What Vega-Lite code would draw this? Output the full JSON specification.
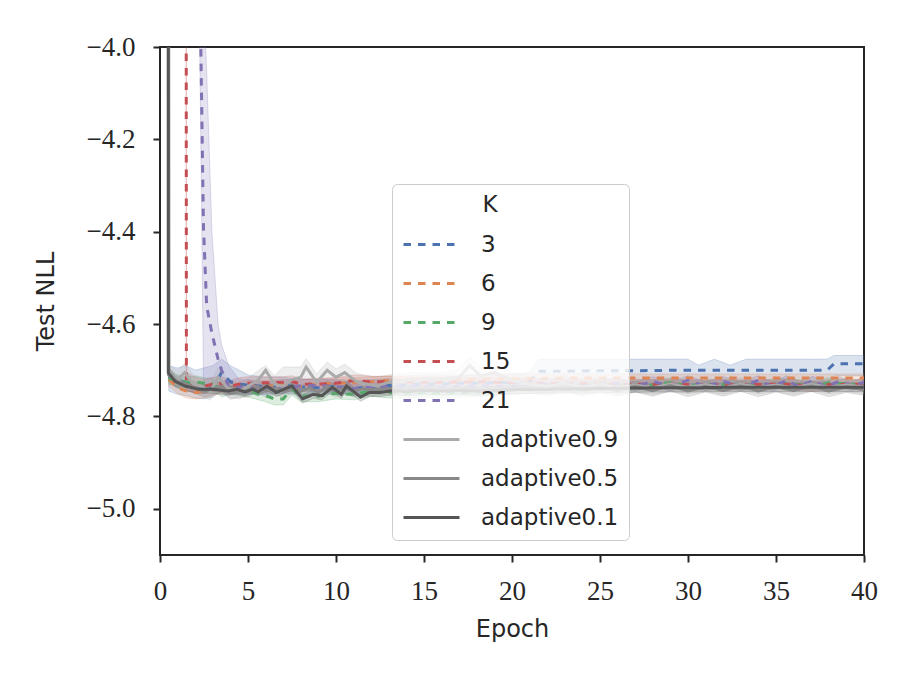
{
"$schema": "https://vega.github.io/schema/vega-lite/v6.json",
"width": 704, "height": 508,
"autosize": {"type": "none"},
"padding": {"left": 160, "top": 47, "right": 49, "bottom": 130},
"background": "white",
"config": {"view": {"stroke": "#262626", "strokeWidth": 2}},
"data": {"values": [
{"s":"3","x":0.5,"y":-4.712,"lo":-4.745,"hi":-4.69},
{"s":"3","x":1,"y":-4.722,"lo":-4.752,"hi":-4.695},
{"s":"3","x":1.5,"y":-4.726,"lo":-4.755,"hi":-4.69},
{"s":"3","x":2,"y":-4.735,"lo":-4.76,"hi":-4.7},
{"s":"3","x":2.5,"y":-4.742,"lo":-4.762,"hi":-4.695},
{"s":"3","x":3,"y":-4.738,"lo":-4.758,"hi":-4.69},
{"s":"3","x":3.5,"y":-4.705,"lo":-4.745,"hi":-4.676},
{"s":"3","x":4,"y":-4.725,"lo":-4.752,"hi":-4.69},
{"s":"3","x":4.5,"y":-4.73,"lo":-4.752,"hi":-4.7},
{"s":"3","x":5,"y":-4.732,"lo":-4.752,"hi":-4.71},
{"s":"3","x":6,"y":-4.735,"lo":-4.752,"hi":-4.715},
{"s":"3","x":7,"y":-4.733,"lo":-4.75,"hi":-4.715},
{"s":"3","x":8,"y":-4.736,"lo":-4.752,"hi":-4.72},
{"s":"3","x":9,"y":-4.738,"lo":-4.754,"hi":-4.72},
{"s":"3","x":10,"y":-4.735,"lo":-4.75,"hi":-4.72},
{"s":"3","x":11,"y":-4.74,"lo":-4.754,"hi":-4.722},
{"s":"3","x":12,"y":-4.735,"lo":-4.75,"hi":-4.72},
{"s":"3","x":13,"y":-4.733,"lo":-4.748,"hi":-4.718},
{"s":"3","x":14,"y":-4.732,"lo":-4.746,"hi":-4.718},
{"s":"3","x":15,"y":-4.73,"lo":-4.745,"hi":-4.715},
{"s":"3","x":16,"y":-4.73,"lo":-4.745,"hi":-4.715},
{"s":"3","x":17,"y":-4.728,"lo":-4.742,"hi":-4.712},
{"s":"3","x":18,"y":-4.728,"lo":-4.742,"hi":-4.71},
{"s":"3","x":19,"y":-4.727,"lo":-4.742,"hi":-4.71},
{"s":"3","x":20,"y":-4.726,"lo":-4.74,"hi":-4.708},
{"s":"3","x":21,"y":-4.725,"lo":-4.74,"hi":-4.705},
{"s":"3","x":21.5,"y":-4.702,"lo":-4.73,"hi":-4.676},
{"s":"3","x":23,"y":-4.702,"lo":-4.728,"hi":-4.676},
{"s":"3","x":25,"y":-4.701,"lo":-4.728,"hi":-4.676},
{"s":"3","x":27,"y":-4.701,"lo":-4.728,"hi":-4.676},
{"s":"3","x":29,"y":-4.7,"lo":-4.728,"hi":-4.676},
{"s":"3","x":30,"y":-4.7,"lo":-4.728,"hi":-4.676},
{"s":"3","x":30.6,"y":-4.7,"lo":-4.728,"hi":-4.689},
{"s":"3","x":31.5,"y":-4.7,"lo":-4.728,"hi":-4.676},
{"s":"3","x":32.4,"y":-4.7,"lo":-4.728,"hi":-4.689},
{"s":"3","x":33.3,"y":-4.7,"lo":-4.728,"hi":-4.676},
{"s":"3","x":35,"y":-4.7,"lo":-4.728,"hi":-4.676},
{"s":"3","x":37,"y":-4.7,"lo":-4.728,"hi":-4.676},
{"s":"3","x":37.9,"y":-4.7,"lo":-4.728,"hi":-4.676},
{"s":"3","x":38.3,"y":-4.686,"lo":-4.712,"hi":-4.668},
{"s":"3","x":39,"y":-4.686,"lo":-4.712,"hi":-4.668},
{"s":"3","x":40,"y":-4.686,"lo":-4.712,"hi":-4.668},

{"s":"6","x":0.5,"y":-4.72,"lo":-4.735,"hi":-4.705},
{"s":"6","x":1,"y":-4.738,"lo":-4.75,"hi":-4.72},
{"s":"6","x":1.5,"y":-4.745,"lo":-4.76,"hi":-4.73},
{"s":"6","x":2,"y":-4.748,"lo":-4.762,"hi":-4.735},
{"s":"6","x":2.5,"y":-4.745,"lo":-4.76,"hi":-4.73},
{"s":"6","x":3,"y":-4.742,"lo":-4.755,"hi":-4.73},
{"s":"6","x":3.5,"y":-4.738,"lo":-4.75,"hi":-4.725},
{"s":"6","x":4,"y":-4.74,"lo":-4.752,"hi":-4.728},
{"s":"6","x":4.5,"y":-4.738,"lo":-4.75,"hi":-4.725},
{"s":"6","x":5,"y":-4.735,"lo":-4.748,"hi":-4.722},
{"s":"6","x":6,"y":-4.735,"lo":-4.748,"hi":-4.722},
{"s":"6","x":7,"y":-4.732,"lo":-4.745,"hi":-4.72},
{"s":"6","x":8,"y":-4.735,"lo":-4.748,"hi":-4.722},
{"s":"6","x":9,"y":-4.73,"lo":-4.742,"hi":-4.718},
{"s":"6","x":10,"y":-4.728,"lo":-4.74,"hi":-4.716},
{"s":"6","x":11,"y":-4.727,"lo":-4.738,"hi":-4.716},
{"s":"6","x":12,"y":-4.725,"lo":-4.736,"hi":-4.714},
{"s":"6","x":13,"y":-4.722,"lo":-4.733,"hi":-4.712},
{"s":"6","x":14,"y":-4.722,"lo":-4.733,"hi":-4.712},
{"s":"6","x":15,"y":-4.72,"lo":-4.73,"hi":-4.71},
{"s":"6","x":17,"y":-4.72,"lo":-4.73,"hi":-4.71},
{"s":"6","x":19,"y":-4.719,"lo":-4.729,"hi":-4.709},
{"s":"6","x":21,"y":-4.718,"lo":-4.727,"hi":-4.708},
{"s":"6","x":23,"y":-4.717,"lo":-4.726,"hi":-4.708},
{"s":"6","x":26,"y":-4.717,"lo":-4.726,"hi":-4.708},
{"s":"6","x":30,"y":-4.717,"lo":-4.726,"hi":-4.708},
{"s":"6","x":34,"y":-4.717,"lo":-4.726,"hi":-4.708},
{"s":"6","x":37,"y":-4.717,"lo":-4.726,"hi":-4.708},
{"s":"6","x":40,"y":-4.717,"lo":-4.726,"hi":-4.708},

{"s":"9","x":0.5,"y":-4.718,"lo":-4.73,"hi":-4.705},
{"s":"9","x":1,"y":-4.722,"lo":-4.735,"hi":-4.71},
{"s":"9","x":1.5,"y":-4.726,"lo":-4.738,"hi":-4.714},
{"s":"9","x":2,"y":-4.725,"lo":-4.738,"hi":-4.713},
{"s":"9","x":2.5,"y":-4.728,"lo":-4.74,"hi":-4.716},
{"s":"9","x":3,"y":-4.73,"lo":-4.742,"hi":-4.718},
{"s":"9","x":3.5,"y":-4.745,"lo":-4.758,"hi":-4.732},
{"s":"9","x":4,"y":-4.74,"lo":-4.752,"hi":-4.728},
{"s":"9","x":4.5,"y":-4.742,"lo":-4.755,"hi":-4.73},
{"s":"9","x":5,"y":-4.745,"lo":-4.758,"hi":-4.732},
{"s":"9","x":6,"y":-4.755,"lo":-4.768,"hi":-4.742},
{"s":"9","x":6.5,"y":-4.762,"lo":-4.775,"hi":-4.75},
{"s":"9","x":7,"y":-4.762,"lo":-4.775,"hi":-4.75},
{"s":"9","x":7.5,"y":-4.741,"lo":-4.754,"hi":-4.728},
{"s":"9","x":8,"y":-4.756,"lo":-4.768,"hi":-4.744},
{"s":"9","x":9,"y":-4.756,"lo":-4.768,"hi":-4.744},
{"s":"9","x":10,"y":-4.75,"lo":-4.762,"hi":-4.738},
{"s":"9","x":11,"y":-4.752,"lo":-4.764,"hi":-4.74},
{"s":"9","x":12,"y":-4.745,"lo":-4.756,"hi":-4.734},
{"s":"9","x":13,"y":-4.748,"lo":-4.76,"hi":-4.736},
{"s":"9","x":14,"y":-4.75,"lo":-4.76,"hi":-4.738},
{"s":"9","x":15,"y":-4.748,"lo":-4.758,"hi":-4.738},
{"s":"9","x":16,"y":-4.75,"lo":-4.76,"hi":-4.74},
{"s":"9","x":17,"y":-4.748,"lo":-4.758,"hi":-4.738},
{"s":"9","x":18,"y":-4.747,"lo":-4.757,"hi":-4.737},
{"s":"9","x":19,"y":-4.745,"lo":-4.755,"hi":-4.735},
{"s":"9","x":20,"y":-4.742,"lo":-4.752,"hi":-4.732},
{"s":"9","x":22,"y":-4.738,"lo":-4.748,"hi":-4.728},
{"s":"9","x":24,"y":-4.735,"lo":-4.745,"hi":-4.725},
{"s":"9","x":26,"y":-4.733,"lo":-4.743,"hi":-4.723},
{"s":"9","x":28,"y":-4.732,"lo":-4.742,"hi":-4.722},
{"s":"9","x":29,"y":-4.727,"lo":-4.737,"hi":-4.717},
{"s":"9","x":30,"y":-4.733,"lo":-4.743,"hi":-4.723},
{"s":"9","x":32,"y":-4.73,"lo":-4.74,"hi":-4.72},
{"s":"9","x":34,"y":-4.733,"lo":-4.743,"hi":-4.723},
{"s":"9","x":35.5,"y":-4.728,"lo":-4.738,"hi":-4.718},
{"s":"9","x":37,"y":-4.733,"lo":-4.743,"hi":-4.723},
{"s":"9","x":38,"y":-4.727,"lo":-4.737,"hi":-4.717},
{"s":"9","x":40,"y":-4.732,"lo":-4.742,"hi":-4.722},

{"s":"15","x":1.45,"y":-1.0,"lo":-1.5,"hi":-0.5},
{"s":"15","x":1.5,"y":-4.726,"lo":-4.745,"hi":-4.705},
{"s":"15","x":2,"y":-4.732,"lo":-4.748,"hi":-4.715},
{"s":"15","x":2.5,"y":-4.735,"lo":-4.75,"hi":-4.72},
{"s":"15","x":3,"y":-4.73,"lo":-4.745,"hi":-4.715},
{"s":"15","x":3.5,"y":-4.728,"lo":-4.742,"hi":-4.714},
{"s":"15","x":4,"y":-4.735,"lo":-4.748,"hi":-4.722},
{"s":"15","x":4.5,"y":-4.73,"lo":-4.744,"hi":-4.716},
{"s":"15","x":5,"y":-4.728,"lo":-4.742,"hi":-4.714},
{"s":"15","x":6,"y":-4.727,"lo":-4.74,"hi":-4.714},
{"s":"15","x":7,"y":-4.726,"lo":-4.738,"hi":-4.714},
{"s":"15","x":7.5,"y":-4.724,"lo":-4.736,"hi":-4.712},
{"s":"15","x":8,"y":-4.73,"lo":-4.742,"hi":-4.718},
{"s":"15","x":9,"y":-4.73,"lo":-4.742,"hi":-4.718},
{"s":"15","x":10,"y":-4.728,"lo":-4.74,"hi":-4.716},
{"s":"15","x":11,"y":-4.722,"lo":-4.734,"hi":-4.71},
{"s":"15","x":12,"y":-4.725,"lo":-4.737,"hi":-4.713},
{"s":"15","x":14,"y":-4.725,"lo":-4.736,"hi":-4.714},
{"s":"15","x":16,"y":-4.726,"lo":-4.736,"hi":-4.715},
{"s":"15","x":18,"y":-4.725,"lo":-4.735,"hi":-4.715},
{"s":"15","x":20,"y":-4.727,"lo":-4.737,"hi":-4.717},
{"s":"15","x":22,"y":-4.728,"lo":-4.738,"hi":-4.718},
{"s":"15","x":25,"y":-4.73,"lo":-4.74,"hi":-4.72},
{"s":"15","x":28,"y":-4.73,"lo":-4.74,"hi":-4.72},
{"s":"15","x":31,"y":-4.731,"lo":-4.741,"hi":-4.721},
{"s":"15","x":34,"y":-4.731,"lo":-4.741,"hi":-4.721},
{"s":"15","x":36,"y":-4.73,"lo":-4.74,"hi":-4.72},
{"s":"15","x":37,"y":-4.736,"lo":-4.746,"hi":-4.726},
{"s":"15","x":38,"y":-4.731,"lo":-4.741,"hi":-4.721},
{"s":"15","x":40,"y":-4.73,"lo":-4.74,"hi":-4.72},

{"s":"21","x":2.0,"y":-3.0,"lo":-3.3,"hi":-2.7},
{"s":"21","x":2.2,"y":-3.69,"lo":-3.8,"hi":-3.5},
{"s":"21","x":2.47,"y":-4.39,"lo":-4.72,"hi":-3.9},
{"s":"21","x":2.65,"y":-4.56,"lo":-4.74,"hi":-4.05},
{"s":"21","x":2.95,"y":-4.62,"lo":-4.745,"hi":-4.4},
{"s":"21","x":3.3,"y":-4.676,"lo":-4.745,"hi":-4.6},
{"s":"21","x":3.5,"y":-4.7,"lo":-4.748,"hi":-4.645},
{"s":"21","x":3.9,"y":-4.735,"lo":-4.752,"hi":-4.69},
{"s":"21","x":4.5,"y":-4.738,"lo":-4.752,"hi":-4.72},
{"s":"21","x":5,"y":-4.735,"lo":-4.75,"hi":-4.72},
{"s":"21","x":6,"y":-4.74,"lo":-4.752,"hi":-4.726},
{"s":"21","x":7,"y":-4.735,"lo":-4.748,"hi":-4.72},
{"s":"21","x":8,"y":-4.734,"lo":-4.746,"hi":-4.72},
{"s":"21","x":9,"y":-4.733,"lo":-4.745,"hi":-4.72},
{"s":"21","x":10,"y":-4.735,"lo":-4.747,"hi":-4.722},
{"s":"21","x":11,"y":-4.74,"lo":-4.752,"hi":-4.726},
{"s":"21","x":12,"y":-4.735,"lo":-4.746,"hi":-4.722},
{"s":"21","x":14,"y":-4.735,"lo":-4.745,"hi":-4.724},
{"s":"21","x":16,"y":-4.736,"lo":-4.746,"hi":-4.725},
{"s":"21","x":18,"y":-4.734,"lo":-4.744,"hi":-4.723},
{"s":"21","x":20,"y":-4.735,"lo":-4.745,"hi":-4.724},
{"s":"21","x":22,"y":-4.73,"lo":-4.74,"hi":-4.72},
{"s":"21","x":24,"y":-4.734,"lo":-4.744,"hi":-4.723},
{"s":"21","x":26,"y":-4.728,"lo":-4.738,"hi":-4.718},
{"s":"21","x":27,"y":-4.735,"lo":-4.745,"hi":-4.725},
{"s":"21","x":28,"y":-4.724,"lo":-4.734,"hi":-4.714},
{"s":"21","x":29,"y":-4.735,"lo":-4.745,"hi":-4.725},
{"s":"21","x":30,"y":-4.722,"lo":-4.732,"hi":-4.712},
{"s":"21","x":31,"y":-4.735,"lo":-4.745,"hi":-4.725},
{"s":"21","x":32,"y":-4.724,"lo":-4.734,"hi":-4.714},
{"s":"21","x":33,"y":-4.735,"lo":-4.745,"hi":-4.725},
{"s":"21","x":34,"y":-4.722,"lo":-4.732,"hi":-4.712},
{"s":"21","x":34.8,"y":-4.735,"lo":-4.745,"hi":-4.725},
{"s":"21","x":35.6,"y":-4.722,"lo":-4.732,"hi":-4.712},
{"s":"21","x":36.3,"y":-4.735,"lo":-4.745,"hi":-4.725},
{"s":"21","x":37.1,"y":-4.723,"lo":-4.733,"hi":-4.713},
{"s":"21","x":37.8,"y":-4.735,"lo":-4.745,"hi":-4.725},
{"s":"21","x":38.6,"y":-4.724,"lo":-4.734,"hi":-4.714},
{"s":"21","x":39.3,"y":-4.734,"lo":-4.744,"hi":-4.724},
{"s":"21","x":40,"y":-4.726,"lo":-4.736,"hi":-4.716},

{"s":"adaptive0.9","x":0.45,"y":-1.0,"lo":-1.5,"hi":-0.5},
{"s":"adaptive0.9","x":0.5,"y":-4.71,"lo":-4.73,"hi":-4.69},
{"s":"adaptive0.9","x":1,"y":-4.72,"lo":-4.74,"hi":-4.7},
{"s":"adaptive0.9","x":1.4,"y":-4.705,"lo":-4.725,"hi":-4.685},
{"s":"adaptive0.9","x":1.9,"y":-4.73,"lo":-4.75,"hi":-4.71},
{"s":"adaptive0.9","x":2.4,"y":-4.735,"lo":-4.755,"hi":-4.715},
{"s":"adaptive0.9","x":2.85,"y":-4.747,"lo":-4.765,"hi":-4.728},
{"s":"adaptive0.9","x":3.3,"y":-4.715,"lo":-4.735,"hi":-4.695},
{"s":"adaptive0.9","x":3.9,"y":-4.74,"lo":-4.758,"hi":-4.72},
{"s":"adaptive0.9","x":4.5,"y":-4.745,"lo":-4.762,"hi":-4.728},
{"s":"adaptive0.9","x":5,"y":-4.735,"lo":-4.752,"hi":-4.718},
{"s":"adaptive0.9","x":5.6,"y":-4.72,"lo":-4.738,"hi":-4.7},
{"s":"adaptive0.9","x":6,"y":-4.7,"lo":-4.72,"hi":-4.69},
{"s":"adaptive0.9","x":6.5,"y":-4.73,"lo":-4.75,"hi":-4.712},
{"s":"adaptive0.9","x":7,"y":-4.735,"lo":-4.752,"hi":-4.693},
{"s":"adaptive0.9","x":7.5,"y":-4.72,"lo":-4.74,"hi":-4.693},
{"s":"adaptive0.9","x":8,"y":-4.715,"lo":-4.735,"hi":-4.693},
{"s":"adaptive0.9","x":8.3,"y":-4.693,"lo":-4.712,"hi":-4.675},
{"s":"adaptive0.9","x":8.9,"y":-4.726,"lo":-4.745,"hi":-4.708},
{"s":"adaptive0.9","x":9.5,"y":-4.7,"lo":-4.72,"hi":-4.682},
{"s":"adaptive0.9","x":10,"y":-4.715,"lo":-4.735,"hi":-4.697},
{"s":"adaptive0.9","x":10.5,"y":-4.705,"lo":-4.725,"hi":-4.687},
{"s":"adaptive0.9","x":11.2,"y":-4.726,"lo":-4.745,"hi":-4.707},
{"s":"adaptive0.9","x":12.3,"y":-4.734,"lo":-4.75,"hi":-4.715},
{"s":"adaptive0.9","x":13,"y":-4.726,"lo":-4.742,"hi":-4.71},
{"s":"adaptive0.9","x":14,"y":-4.722,"lo":-4.738,"hi":-4.705},
{"s":"adaptive0.9","x":15,"y":-4.72,"lo":-4.736,"hi":-4.705},
{"s":"adaptive0.9","x":16,"y":-4.72,"lo":-4.736,"hi":-4.705},
{"s":"adaptive0.9","x":17,"y":-4.715,"lo":-4.732,"hi":-4.698},
{"s":"adaptive0.9","x":17.6,"y":-4.69,"lo":-4.71,"hi":-4.672},
{"s":"adaptive0.9","x":18.2,"y":-4.712,"lo":-4.73,"hi":-4.695},
{"s":"adaptive0.9","x":19,"y":-4.705,"lo":-4.722,"hi":-4.688},
{"s":"adaptive0.9","x":20,"y":-4.722,"lo":-4.738,"hi":-4.705},
{"s":"adaptive0.9","x":21,"y":-4.73,"lo":-4.745,"hi":-4.715},
{"s":"adaptive0.9","x":22,"y":-4.735,"lo":-4.75,"hi":-4.72},
{"s":"adaptive0.9","x":23,"y":-4.728,"lo":-4.744,"hi":-4.713},
{"s":"adaptive0.9","x":24,"y":-4.737,"lo":-4.752,"hi":-4.722},
{"s":"adaptive0.9","x":25,"y":-4.73,"lo":-4.745,"hi":-4.715},
{"s":"adaptive0.9","x":26,"y":-4.738,"lo":-4.752,"hi":-4.723},
{"s":"adaptive0.9","x":27,"y":-4.732,"lo":-4.747,"hi":-4.718},
{"s":"adaptive0.9","x":28,"y":-4.738,"lo":-4.752,"hi":-4.724},
{"s":"adaptive0.9","x":29,"y":-4.73,"lo":-4.745,"hi":-4.716},
{"s":"adaptive0.9","x":30,"y":-4.737,"lo":-4.751,"hi":-4.723},
{"s":"adaptive0.9","x":31,"y":-4.731,"lo":-4.745,"hi":-4.717},
{"s":"adaptive0.9","x":32,"y":-4.738,"lo":-4.752,"hi":-4.724},
{"s":"adaptive0.9","x":33,"y":-4.73,"lo":-4.744,"hi":-4.716},
{"s":"adaptive0.9","x":34,"y":-4.737,"lo":-4.751,"hi":-4.723},
{"s":"adaptive0.9","x":35,"y":-4.732,"lo":-4.746,"hi":-4.718},
{"s":"adaptive0.9","x":36,"y":-4.738,"lo":-4.752,"hi":-4.724},
{"s":"adaptive0.9","x":37,"y":-4.73,"lo":-4.744,"hi":-4.716},
{"s":"adaptive0.9","x":38,"y":-4.737,"lo":-4.751,"hi":-4.723},
{"s":"adaptive0.9","x":39,"y":-4.732,"lo":-4.746,"hi":-4.718},
{"s":"adaptive0.9","x":40,"y":-4.736,"lo":-4.75,"hi":-4.722},

{"s":"adaptive0.5","x":0.45,"y":-1.0,"lo":-1.5,"hi":-0.5},
{"s":"adaptive0.5","x":0.5,"y":-4.71,"lo":-4.725,"hi":-4.695},
{"s":"adaptive0.5","x":1,"y":-4.725,"lo":-4.738,"hi":-4.712},
{"s":"adaptive0.5","x":1.5,"y":-4.73,"lo":-4.743,"hi":-4.717},
{"s":"adaptive0.5","x":2,"y":-4.738,"lo":-4.75,"hi":-4.725},
{"s":"adaptive0.5","x":2.5,"y":-4.745,"lo":-4.758,"hi":-4.732},
{"s":"adaptive0.5","x":3,"y":-4.74,"lo":-4.753,"hi":-4.727},
{"s":"adaptive0.5","x":3.5,"y":-4.735,"lo":-4.748,"hi":-4.722},
{"s":"adaptive0.5","x":4,"y":-4.75,"lo":-4.763,"hi":-4.737},
{"s":"adaptive0.5","x":4.5,"y":-4.745,"lo":-4.758,"hi":-4.732},
{"s":"adaptive0.5","x":5,"y":-4.745,"lo":-4.758,"hi":-4.732},
{"s":"adaptive0.5","x":5.5,"y":-4.735,"lo":-4.748,"hi":-4.722},
{"s":"adaptive0.5","x":6,"y":-4.745,"lo":-4.758,"hi":-4.732},
{"s":"adaptive0.5","x":6.5,"y":-4.74,"lo":-4.753,"hi":-4.727},
{"s":"adaptive0.5","x":7,"y":-4.745,"lo":-4.758,"hi":-4.732},
{"s":"adaptive0.5","x":7.5,"y":-4.738,"lo":-4.751,"hi":-4.725},
{"s":"adaptive0.5","x":8,"y":-4.745,"lo":-4.758,"hi":-4.732},
{"s":"adaptive0.5","x":8.5,"y":-4.738,"lo":-4.751,"hi":-4.725},
{"s":"adaptive0.5","x":9,"y":-4.748,"lo":-4.761,"hi":-4.735},
{"s":"adaptive0.5","x":9.5,"y":-4.735,"lo":-4.748,"hi":-4.722},
{"s":"adaptive0.5","x":10,"y":-4.745,"lo":-4.758,"hi":-4.732},
{"s":"adaptive0.5","x":10.5,"y":-4.738,"lo":-4.751,"hi":-4.725},
{"s":"adaptive0.5","x":11,"y":-4.745,"lo":-4.758,"hi":-4.732},
{"s":"adaptive0.5","x":11.5,"y":-4.74,"lo":-4.753,"hi":-4.727},
{"s":"adaptive0.5","x":12,"y":-4.742,"lo":-4.755,"hi":-4.729},
{"s":"adaptive0.5","x":13,"y":-4.74,"lo":-4.752,"hi":-4.728},
{"s":"adaptive0.5","x":14,"y":-4.742,"lo":-4.754,"hi":-4.73},
{"s":"adaptive0.5","x":15,"y":-4.74,"lo":-4.752,"hi":-4.728},
{"s":"adaptive0.5","x":16,"y":-4.741,"lo":-4.753,"hi":-4.729},
{"s":"adaptive0.5","x":17,"y":-4.74,"lo":-4.752,"hi":-4.728},
{"s":"adaptive0.5","x":18,"y":-4.742,"lo":-4.754,"hi":-4.73},
{"s":"adaptive0.5","x":19,"y":-4.739,"lo":-4.751,"hi":-4.727},
{"s":"adaptive0.5","x":20,"y":-4.74,"lo":-4.752,"hi":-4.728},
{"s":"adaptive0.5","x":21,"y":-4.738,"lo":-4.75,"hi":-4.726},
{"s":"adaptive0.5","x":22,"y":-4.742,"lo":-4.754,"hi":-4.73},
{"s":"adaptive0.5","x":23,"y":-4.735,"lo":-4.747,"hi":-4.723},
{"s":"adaptive0.5","x":24,"y":-4.743,"lo":-4.755,"hi":-4.731},
{"s":"adaptive0.5","x":25,"y":-4.736,"lo":-4.748,"hi":-4.724},
{"s":"adaptive0.5","x":26,"y":-4.744,"lo":-4.756,"hi":-4.732},
{"s":"adaptive0.5","x":27,"y":-4.735,"lo":-4.747,"hi":-4.723},
{"s":"adaptive0.5","x":28,"y":-4.744,"lo":-4.756,"hi":-4.732},
{"s":"adaptive0.5","x":29,"y":-4.733,"lo":-4.745,"hi":-4.721},
{"s":"adaptive0.5","x":30,"y":-4.745,"lo":-4.757,"hi":-4.733},
{"s":"adaptive0.5","x":31,"y":-4.735,"lo":-4.747,"hi":-4.723},
{"s":"adaptive0.5","x":32,"y":-4.744,"lo":-4.756,"hi":-4.732},
{"s":"adaptive0.5","x":33,"y":-4.734,"lo":-4.746,"hi":-4.722},
{"s":"adaptive0.5","x":34,"y":-4.745,"lo":-4.757,"hi":-4.733},
{"s":"adaptive0.5","x":35,"y":-4.735,"lo":-4.747,"hi":-4.723},
{"s":"adaptive0.5","x":36,"y":-4.744,"lo":-4.756,"hi":-4.732},
{"s":"adaptive0.5","x":37,"y":-4.734,"lo":-4.746,"hi":-4.722},
{"s":"adaptive0.5","x":38,"y":-4.745,"lo":-4.757,"hi":-4.733},
{"s":"adaptive0.5","x":39,"y":-4.736,"lo":-4.748,"hi":-4.724},
{"s":"adaptive0.5","x":40,"y":-4.742,"lo":-4.754,"hi":-4.73},

{"s":"adaptive0.1","x":0.45,"y":-1.0,"lo":-1.5,"hi":-0.5},
{"s":"adaptive0.1","x":0.47,"y":-4.705,"lo":-4.718,"hi":-4.692},
{"s":"adaptive0.1","x":0.85,"y":-4.724,"lo":-4.735,"hi":-4.713},
{"s":"adaptive0.1","x":1.42,"y":-4.734,"lo":-4.744,"hi":-4.724},
{"s":"adaptive0.1","x":2.16,"y":-4.741,"lo":-4.75,"hi":-4.732},
{"s":"adaptive0.1","x":2.95,"y":-4.741,"lo":-4.75,"hi":-4.732},
{"s":"adaptive0.1","x":3.86,"y":-4.745,"lo":-4.754,"hi":-4.736},
{"s":"adaptive0.1","x":4.38,"y":-4.741,"lo":-4.75,"hi":-4.732},
{"s":"adaptive0.1","x":4.83,"y":-4.747,"lo":-4.756,"hi":-4.738},
{"s":"adaptive0.1","x":5.28,"y":-4.741,"lo":-4.75,"hi":-4.732},
{"s":"adaptive0.1","x":5.57,"y":-4.747,"lo":-4.756,"hi":-4.738},
{"s":"adaptive0.1","x":6.08,"y":-4.734,"lo":-4.743,"hi":-4.725},
{"s":"adaptive0.1","x":6.6,"y":-4.748,"lo":-4.757,"hi":-4.739},
{"s":"adaptive0.1","x":7.5,"y":-4.734,"lo":-4.743,"hi":-4.725},
{"s":"adaptive0.1","x":8.1,"y":-4.762,"lo":-4.771,"hi":-4.753},
{"s":"adaptive0.1","x":8.7,"y":-4.752,"lo":-4.761,"hi":-4.743},
{"s":"adaptive0.1","x":9.2,"y":-4.755,"lo":-4.764,"hi":-4.746},
{"s":"adaptive0.1","x":9.8,"y":-4.737,"lo":-4.746,"hi":-4.728},
{"s":"adaptive0.1","x":10.3,"y":-4.752,"lo":-4.761,"hi":-4.743},
{"s":"adaptive0.1","x":10.6,"y":-4.734,"lo":-4.743,"hi":-4.725},
{"s":"adaptive0.1","x":11.4,"y":-4.758,"lo":-4.767,"hi":-4.749},
{"s":"adaptive0.1","x":11.9,"y":-4.748,"lo":-4.757,"hi":-4.739},
{"s":"adaptive0.1","x":12.5,"y":-4.748,"lo":-4.757,"hi":-4.739},
{"s":"adaptive0.1","x":13.1,"y":-4.745,"lo":-4.754,"hi":-4.736},
{"s":"adaptive0.1","x":14,"y":-4.746,"lo":-4.755,"hi":-4.737},
{"s":"adaptive0.1","x":15,"y":-4.744,"lo":-4.753,"hi":-4.735},
{"s":"adaptive0.1","x":16,"y":-4.745,"lo":-4.754,"hi":-4.736},
{"s":"adaptive0.1","x":17,"y":-4.744,"lo":-4.753,"hi":-4.735},
{"s":"adaptive0.1","x":18,"y":-4.745,"lo":-4.754,"hi":-4.736},
{"s":"adaptive0.1","x":19,"y":-4.744,"lo":-4.753,"hi":-4.735},
{"s":"adaptive0.1","x":20,"y":-4.742,"lo":-4.751,"hi":-4.733},
{"s":"adaptive0.1","x":22,"y":-4.741,"lo":-4.75,"hi":-4.732},
{"s":"adaptive0.1","x":24,"y":-4.74,"lo":-4.749,"hi":-4.731},
{"s":"adaptive0.1","x":26,"y":-4.739,"lo":-4.748,"hi":-4.73},
{"s":"adaptive0.1","x":28,"y":-4.738,"lo":-4.747,"hi":-4.729},
{"s":"adaptive0.1","x":30,"y":-4.738,"lo":-4.747,"hi":-4.729},
{"s":"adaptive0.1","x":32,"y":-4.737,"lo":-4.746,"hi":-4.728},
{"s":"adaptive0.1","x":34,"y":-4.737,"lo":-4.746,"hi":-4.728},
{"s":"adaptive0.1","x":36,"y":-4.737,"lo":-4.746,"hi":-4.728},
{"s":"adaptive0.1","x":38,"y":-4.737,"lo":-4.746,"hi":-4.728},
{"s":"adaptive0.1","x":40,"y":-4.737,"lo":-4.746,"hi":-4.728}
]},
"layer": [
{"mark": {"type": "area", "clip": true, "fillOpacity": 0.2, "strokeOpacity": 0.25, "strokeWidth": 1},
 "encoding": {
  "x": {"field": "x", "type": "quantitative",
        "scale": {"domain": [0, 40], "nice": false, "zero": false},
        "axis": {"values": [0,5,10,15,20,25,30,35,40], "title": "Epoch", "grid": false, "domain": false,
                 "tickSize": 7, "tickWidth": 2, "tickColor": "#262626", "labelFlush": false,
                 "labelFont": "Liberation Serif", "labelFontSize": 27, "labelColor": "#262626", "labelPadding": 16,
                 "titleFont": "DejaVu Sans", "titleFontSize": 24, "titleFontWeight": "normal", "titleColor": "#262626", "titlePadding": 13}},
  "y": {"field": "lo", "type": "quantitative",
        "scale": {"domain": [-5.1, -4.0], "nice": false, "zero": false},
        "axis": {"values": [-5.0,-4.8,-4.6,-4.4,-4.2,-4.0], "format": ".1f", "title": "Test NLL", "grid": false, "domain": false,
                 "tickSize": 7, "tickWidth": 2, "tickColor": "#262626", "labelFlush": false,
                 "labelFont": "Liberation Serif", "labelFontSize": 27, "labelColor": "#262626", "labelPadding": 18,
                 "titleFont": "DejaVu Sans", "titleFontSize": 24, "titleFontWeight": "normal", "titleColor": "#262626",
                 "titleX": -114, "titleBaseline": "middle"}},
  "y2": {"field": "hi"},
  "fill": {"field": "s", "type": "nominal", "legend": null,
           "scale": {"domain": ["adaptive0.1","adaptive0.5","adaptive0.9","21","15","9","6","3"],
                     "range": ["#555555","#888888","#aaaaaa","#8172b3","#c44e52","#55a868","#dd8452","#4c72b0"]}},
  "stroke": {"field": "s", "type": "nominal", "legend": null,
           "scale": {"domain": ["adaptive0.1","adaptive0.5","adaptive0.9","21","15","9","6","3"],
                     "range": ["#555555","#888888","#aaaaaa","#8172b3","#c44e52","#55a868","#dd8452","#4c72b0"]}}
 }},
{"mark": {"type": "line", "clip": true, "strokeWidth": 3},
 "encoding": {
  "x": {"field": "x", "type": "quantitative"},
  "y": {"field": "y", "type": "quantitative"},
  "color": {"field": "s", "type": "nominal",
            "scale": {"domain": ["3","6","9","15","21","adaptive0.9","adaptive0.5","adaptive0.1"],
                      "range": ["#4c72b0","#dd8452","#55a868","#c44e52","#8172b3","#aaaaaa","#888888","#555555"]},
            "legend": {"title": "\u200b\u00a0\u00a0\u00a0\u00a0\u00a0\u00a0\u00a0\u00a0\u00a0\u00a0\u00a0K", "orient": "none", "legendX": 232, "legendY": 137,
                       "padding": 10, "fillColor": "rgba(255,255,255,0.8)", "strokeColor": "#cccccc", "cornerRadius": 5,
                       "symbolType": "M-1,0L3,0", "symbolSize": 784, "symbolStrokeWidth": 3, "labelOffset": 48, "rowPadding": 11,
                       "titlePadding": 12, "labelFont": "DejaVu Sans", "labelFontSize": 23, "labelColor": "#262626", "labelLimit": 300,
                       "titleFont": "DejaVu Sans", "titleFontSize": 23, "titleFontWeight": "normal", "titleColor": "#262626"}},
  "strokeDash": {"field": "s", "type": "nominal",
            "scale": {"domain": ["3","6","9","15","21","adaptive0.9","adaptive0.5","adaptive0.1"],
                      "range": [[7.5,7],[7.5,7],[7.5,7],[7.5,7],[7.5,7],[1,0],[1,0],[1,0]]},
            "legend": {"title": "\u200b\u00a0\u00a0\u00a0\u00a0\u00a0\u00a0\u00a0\u00a0\u00a0\u00a0\u00a0K", "orient": "none", "legendX": 232, "legendY": 137,
                       "padding": 10, "fillColor": "rgba(255,255,255,0.8)", "strokeColor": "#cccccc", "cornerRadius": 5,
                       "symbolType": "M-1,0L3,0", "symbolSize": 784, "symbolStrokeWidth": 3, "labelOffset": 48, "rowPadding": 11,
                       "titlePadding": 12, "labelFont": "DejaVu Sans", "labelFontSize": 23, "labelColor": "#262626", "labelLimit": 300,
                       "titleFont": "DejaVu Sans", "titleFontSize": 23, "titleFontWeight": "normal", "titleColor": "#262626"}}
 }}
]
}
